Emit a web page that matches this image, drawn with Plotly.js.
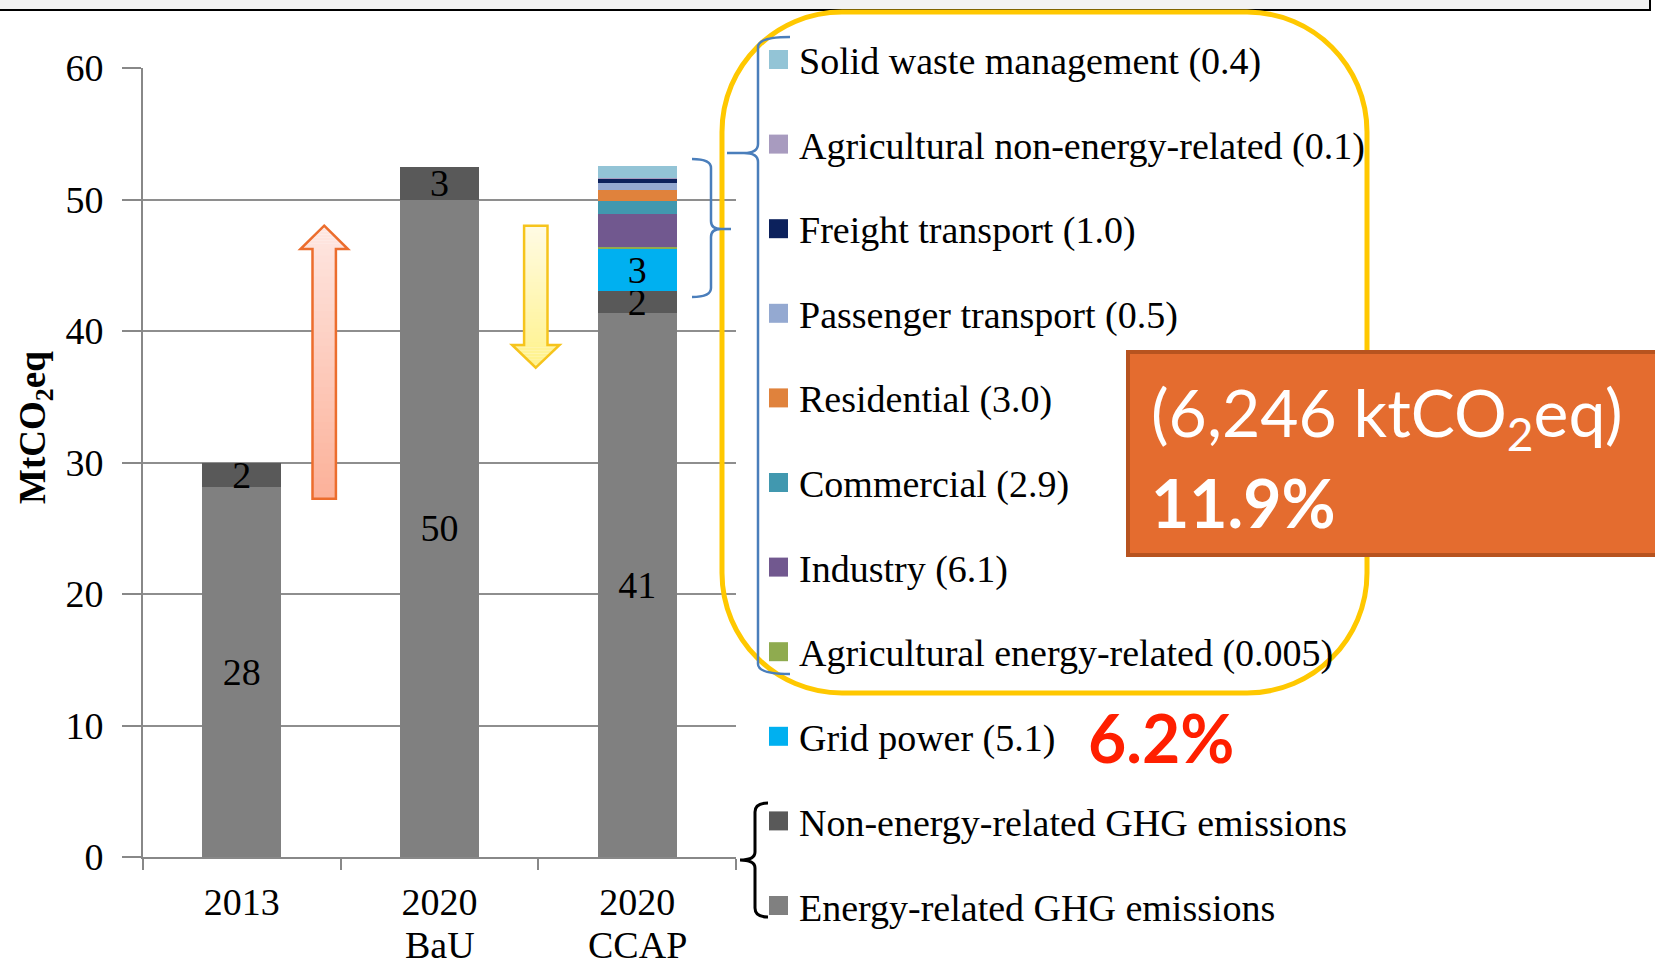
<!DOCTYPE html>
<html><head><meta charset="utf-8">
<script src="https://cdn.plot.ly/plotly-3.0.1.min.js"></script>
<style>html,body{margin:0;padding:0;background:#fff}#chart{width:1655px;height:960px}</style>
</head><body><div id="chart"></div>
<script>
// ---------------- data ----------------
const categories = ['2013', '2020<br>BaU', '2020<br>CCAP'];
const energyRelated = [28.1, 50.0, 41.4];
const nonEnergyRelated = [1.9, 2.5, 1.65];
const gridPower = [null, null, 3.2];
const agriculturalEnergy = [null, null, 0.15];
const industry = [null, null, 2.5];
const commercial = [null, null, 0.95];
const residential = [null, null, 0.9];
const passengerTransport = [null, null, 0.5];
const freightTransport = [null, null, 0.3];
const agriculturalNonEnergy = [null, null, 0.05];
const solidWaste = [null, null, 0.95];

// stacking order, bottom to top
const seriesNames = ['Energy-related GHG emissions', 'Non-energy-related GHG emissions', 'Grid power',
  'Agricultural energy-related', 'Industry', 'Commercial', 'Residential', 'Passenger transport',
  'Freight transport', 'Agricultural non-energy-related', 'Solid waste management'];
const seriesValues = [energyRelated, nonEnergyRelated, gridPower, agriculturalEnergy, industry, commercial,
  residential, passengerTransport, freightTransport, agriculturalNonEnergy, solidWaste];
const reductionLabels = [null, null, '5.1', '0.005', '6.1', '2.9', '3.0', '0.5', '1.0', '0.1', '0.4'];
const labelledSeries = [true, true, true, false, false, false, false, false, false, false, false];
const yTickVals = [0, 10, 20, 30, 40, 50, 60];
const reductionTotalText = '(6,246 ktCO<sub>2</sub>eq)';
const reductionTotalPct = '11.9%';
const gridPct = '6.2%';

// ---------------- styles ----------------
const seriesColors = ['#808080', '#595959', '#00b0f0', '#8fab4f', '#71588f', '#4198af', '#e0823c',
  '#94a9d1', '#0c215c', '#a89bbf', '#93c4d6'];
const SERIF = 'Liberation Serif, Times New Roman, serif';
const SANS = 'Lato, Open Sans, sans-serif';

const W = 1655, H = 960, ML = 143, MR = 919, MT = 68, MB = 103;
const PW = W - ML - MR, PH = H - MT - MB;
const px = x => (x - ML) / PW;
const py = y => (H - MB - y) / PH;

function path(tokens) {
  let out = [], nums = [];
  for (const t of tokens) {
    if (typeof t === 'string') { out.push(t); }
    else { nums.push(t); if (nums.length === 2) { out.push(px(nums[0]).toFixed(5) + ',' + py(nums[1]).toFixed(5)); nums = []; } }
  }
  return out.join(' ');
}

// ---------------- traces ----------------
const traces = seriesNames.map((name, i) => {
  const t = {
    type: 'bar', name: name, x: categories, y: seriesValues[i],
    width: 0.4, marker: {color: seriesColors[i], line: {width: 0}},
    hoverinfo: 'name+y', showlegend: false
  };
  if (labelledSeries[i]) {
    Object.assign(t, {texttemplate: '%{y:.0f}', textposition: 'inside', insidetextanchor: 'middle',
      constraintext: 'none', textangle: 0, textfont: {family: SERIF, size: 38, color: '#000'}});
  } else {
    t.textposition = 'none';
  }
  return t;
});

// ---------------- shapes ----------------
const shapes = [];
// top band
shapes.push({type: 'rect', xref: 'paper', yref: 'paper', x0: px(-10), x1: px(1650), y0: py(-10), y1: py(10),
  fillcolor: '#f2f2f2', line: {color: '#000', width: 2}, layer: 'above'});

// arrows with vertical gradient
function hexToRgb(h) { return [parseInt(h.substr(1,2),16), parseInt(h.substr(3,2),16), parseInt(h.substr(5,2),16)]; }
function mix(a, b, t) { const A = hexToRgb(a), B = hexToRgb(b); return 'rgb(' + A.map((v, i) => Math.round(v + (B[i]-v)*t)).join(',') + ')'; }
function arrow(cx, tipY, headBaseY, tailY, headHalf, shaftHalf, topCol, botCol, lineCol) {
  const top = Math.min(tipY, tailY), bot = Math.max(tipY, tailY);
  const colAt = y => mix(topCol, botCol, (y - top) / (bot - top));
  const Nh = 8, Ns = 36;
  for (let i = 0; i < Nh; i++) {
    const ya = tipY + (headBaseY - tipY) * i / Nh, yb = tipY + (headBaseY - tipY) * (i + 1) / Nh;
    const wa = headHalf * i / Nh, wb = headHalf * (i + 1) / Nh;
    shapes.push({type: 'path', xref: 'paper', yref: 'paper', layer: 'above', line: {width: 0},
      fillcolor: colAt((ya + yb) / 2),
      path: path(['M', cx - wa, ya, 'L', cx + wa, ya, 'L', cx + wb, yb, 'L', cx - wb, yb, 'Z'])});
  }
  for (let i = 0; i < Ns; i++) {
    let ya = headBaseY + (tailY - headBaseY) * i / Ns, yb = headBaseY + (tailY - headBaseY) * (i + 1) / Ns;
    const s = Math.sign(tailY - headBaseY);
    ya -= 0.4 * s; yb += 0.4 * s;
    shapes.push({type: 'path', xref: 'paper', yref: 'paper', layer: 'above', line: {width: 0},
      fillcolor: colAt((ya + yb) / 2),
      path: path(['M', cx - shaftHalf, ya, 'L', cx + shaftHalf, ya, 'L', cx + shaftHalf, yb, 'L', cx - shaftHalf, yb, 'Z'])});
  }
  shapes.push({type: 'path', xref: 'paper', yref: 'paper', layer: 'above', line: {color: lineCol, width: 2.5},
    path: path(['M', cx, tipY, 'L', cx + headHalf, headBaseY, 'L', cx + shaftHalf, headBaseY, 'L', cx + shaftHalf, tailY,
      'L', cx - shaftHalf, tailY, 'L', cx - shaftHalf, headBaseY, 'L', cx - headHalf, headBaseY, 'Z'])});
}
arrow(324.2, 225.7, 249, 498.7, 23.7, 11.7, '#fee7e2', '#fcb199', '#ec6d2d');
arrow(535.8, 367.7, 345, 225.7, 23.7, 11.7, '#fffbe4', '#fff28a', '#f6c41c');

// yellow rounded frame
(function () {
  const x0 = 722, x1 = 1367, y0 = 12, y1 = 693, r = 120, k = 0.5523 * r;
  shapes.push({type: 'path', xref: 'paper', yref: 'paper', layer: 'above', line: {color: '#ffc800', width: 5},
    path: path(['M', x0 + r, y0, 'L', x1 - r, y0, 'C', x1 - r + k, y0, x1, y0 + r - k, x1, y0 + r,
      'L', x1, y1 - r, 'C', x1, y1 - r + k, x1 - r + k, y1, x1 - r, y1,
      'L', x0 + r, y1, 'C', x0 + r - k, y1, x0, y1 - r + k, x0, y1 - r,
      'L', x0, y0 + r, 'C', x0, y0 + r - k, x0 + r - k, y0, x0 + r, y0, 'Z'])});
})();

// braces
shapes.push({type: 'path', xref: 'paper', yref: 'paper', layer: 'above', line: {color: '#4a7ebb', width: 2.5},
  path: path(['M', 790, 37, 'Q', 758, 37, 758, 47, 'L', 758, 144, 'Q', 758, 153, 744, 153, 'L', 727, 153,
    'M', 744, 153, 'Q', 758, 153, 758, 162, 'L', 758, 664, 'Q', 758, 674, 790, 674])});
shapes.push({type: 'path', xref: 'paper', yref: 'paper', layer: 'above', line: {color: '#4a7ebb', width: 2.5},
  path: path(['M', 692, 159, 'Q', 711, 159, 711, 168, 'L', 711, 221, 'Q', 711, 229, 721, 229, 'L', 731, 229,
    'M', 721, 229, 'Q', 711, 229, 711, 237, 'L', 711, 288, 'Q', 711, 297, 692, 297])});
shapes.push({type: 'path', xref: 'paper', yref: 'paper', layer: 'above', line: {color: '#000', width: 3},
  path: path(['M', 768, 803, 'Q', 755, 803, 755, 812, 'L', 755, 852, 'Q', 755, 860, 740, 860,
    'Q', 755, 860, 755, 868, 'L', 755, 908, 'Q', 755, 917, 768, 917])});

// orange box
shapes.push({type: 'rect', xref: 'paper', yref: 'paper', layer: 'above', x0: px(1128), x1: px(1670), y0: py(352), y1: py(555),
  fillcolor: '#e46c2f', line: {color: '#b7531f', width: 4}});

// ---------------- legend (custom) ----------------
const annotations = [];
for (let k = 0; k < seriesNames.length; k++) {
  const i = seriesNames.length - 1 - k; // top to bottom
  const yc = 59.5 + 84.6 * k;
  shapes.push({type: 'rect', xref: 'paper', yref: 'paper', layer: 'above', x0: px(769), x1: px(788), y0: py(yc - 9.5), y1: py(yc + 9.5),
    fillcolor: seriesColors[i], line: {width: 0}});
  const label = reductionLabels[i] ? seriesNames[i] + ' (' + reductionLabels[i] + ')' : seriesNames[i];
  annotations.push({xref: 'paper', yref: 'paper', x: px(797), y: py(yc + 2), xanchor: 'left', yanchor: 'middle',
    text: label, showarrow: false, font: {family: SERIF, size: 38, color: '#000'}});
}

// category labels: first line as tick text, second line as annotation (tighter line spacing, as in the reference)
const tickFirst = categories.map(c => c.split('<br>')[0]);
const tickSecond = categories.map(c => c.split('<br>')[1] || '');
tickSecond.forEach((s, i) => {
  if (!s) return;
  annotations.push({xref: 'x', yref: 'paper', x: i, y: py(945), xanchor: 'center', yanchor: 'middle',
    text: s, showarrow: false, font: {family: SERIF, size: 38, color: '#000'}});
});

annotations.push({xref: 'paper', yref: 'paper', x: px(35), y: py(428), xanchor: 'center', yanchor: 'middle', textangle: -90,
  text: '<b>MtCO<sub>2</sub>eq</b>', showarrow: false, font: {family: SERIF, size: 37, color: '#000'}});
annotations.push({xref: 'paper', yref: 'paper', x: px(1086), y: py(737), xanchor: 'left', yanchor: 'middle',
  text: '<b>' + gridPct + '</b>', showarrow: false, font: {family: SANS, size: 66, color: '#ff1f00'}});
annotations.push({xref: 'paper', yref: 'paper', x: px(1149), y: py(416), xanchor: 'left', yanchor: 'middle',
  text: reductionTotalText, showarrow: false, font: {family: SANS, size: 66, color: '#fff'}});
annotations.push({xref: 'paper', yref: 'paper', x: px(1149), y: py(502), xanchor: 'left', yanchor: 'middle',
  text: '<b>' + reductionTotalPct + '</b>', showarrow: false, font: {family: SANS, size: 66, color: '#fff'}});

const layout = {
  width: W, height: H, margin: {l: ML, r: MR, t: MT, b: MB, pad: 0},
  paper_bgcolor: '#fff', plot_bgcolor: '#fff', barmode: 'stack', showlegend: false,
  font: {family: SERIF, size: 38, color: '#000'},
  xaxis: {type: 'category', categoryorder: 'array', categoryarray: categories, range: [-0.5, 2.5],
    tickmode: 'array', tickvals: categories, ticktext: tickFirst,
    showline: true, linecolor: '#888', linewidth: 2, ticks: 'outside', tickson: 'boundaries', ticklen: 11,
    tickcolor: '#888', tickwidth: 2, showgrid: false, ticklabelstandoff: 10,
    tickfont: {family: SERIF, size: 38, color: '#000'}, fixedrange: true},
  yaxis: {range: [0, 60], tickvals: yTickVals, showline: true, linecolor: '#888', linewidth: 2,
    ticks: 'outside', ticklen: 19, tickcolor: '#888', tickwidth: 2, showgrid: true, gridcolor: '#8e8e8e', gridwidth: 2,
    zeroline: false, ticklabelstandoff: 11, tickfont: {family: SERIF, size: 38, color: '#000'}, fixedrange: true},
  shapes: shapes, annotations: annotations
};

Plotly.newPlot('chart', traces, layout, {displayModeBar: false, staticPlot: true});
</script></body></html>
